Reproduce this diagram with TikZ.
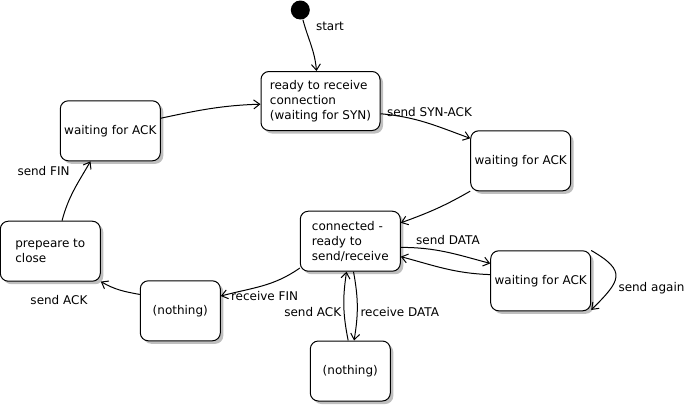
\documentclass[tikz,border=0pt]{standalone}
\usepackage{fontspec}
\setmainfont{DejaVu Sans}
\usetikzlibrary{arrows.meta,shadows}

\begin{document}
\begin{tikzpicture}[x=1pt, y=-1pt, line width=1pt,
        every node/.style={font=\fontsize{12}{15}\selectfont},
        state/.style={draw, rounded corners=8pt, fill=white, align=left, inner sep=2pt,
            minimum width=100pt, minimum height=60pt,
            drop shadow={shadow xshift=3pt, shadow yshift=-3pt, fill=black!25, opacity=1}},
        lbl/.style={inner sep=0pt},
        trans/.style={-{Straight Barb[length=6pt,width=9pt]}}]
    \useasboundingbox (0,0) rectangle (693,405);

    % Zustaende
    \node[circle, fill=black, minimum size=19pt, inner sep=0pt] (start) at (300.3,10) {};
    \node[state, minimum width=119pt, minimum height=59pt] (ready) at (320.5,101) {ready to receive\\connection\\(waiting for SYN)};
    \node[state] (waitL) at (110.3,130.8) {waiting for ACK};
    \node[state] (prep) at (50.3,251.2) {prepeare to\\close};
    \node[state] (waitR) at (520.7,160.8) {waiting for ACK};
    \node[state] (conn) at (350.3,241.2) {connected -\\ready to\\send/receive};
    \node[state] (waitD) at (540.7,280.8) {waiting for ACK};
    \node[state, minimum width=80pt] (nothM) at (180.3,310.8) {(nothing)};
    \node[state, minimum width=80pt] (nothB) at (350.3,371) {(nothing)};

    % Uebergaenge
    \draw[trans] (start.-75) to[out=-75, in=95] ([xshift=-4pt]ready.north);
    \draw[trans] (ready.-12) to[out=-5, in=160] (waitR.156);
    \draw[trans] (waitR.211) to[out=210, in=20] (conn.20);
    \draw[trans] (conn.-7) to[out=0, in=165] (waitD.161);
    \draw[trans] (waitD.173) to[out=178, in=-15] (conn.-17);
    \draw[trans] (waitD.31) to[out=-30, in=45, looseness=1.8] (waitD.-30);
    \draw[trans] (conn.-84) to[bend left=10] (nothB.83);
    \draw[trans] (nothB.94) to[bend left=10] (conn.-97);
    \draw[trans] (conn.208) to[out=215, in=15] (nothM.20);
    \draw[trans] (nothM.158) to[out=170, in=-30] (prep.-31);
    \draw[trans] (prep.69) to[out=75, in=-120] (waitL.237);
    \draw[trans] (waitL.14) to[out=12, in=182] (ready.183);

    \node[lbl, anchor=mid west] (tStart) at (315.5,28) {start};
    \node[lbl, anchor=mid west] (tSynAck) at (386.5,114) {send SYN-ACK};
    \node[lbl, anchor=mid west] (tSendFin) at (17,172.5) {send FIN};
    \node[lbl, anchor=mid west] (tSendAckL) at (30,301.5) {send ACK};
    \node[lbl, anchor=mid west] (tRecvFin) at (230.5,297.5) {receive FIN};
    \node[lbl, anchor=mid east] (tSendAckM) at (341.7,314.2) {send ACK};
    \node[lbl, anchor=mid west] (tRecvData) at (360,314.2) {receive DATA};
    \node[lbl, anchor=mid west] (tSendData) at (415.7,242.2) {send DATA};
    \node[lbl, anchor=mid west] (tAgain) at (618,289) {send again};
\end{tikzpicture}
\end{document}
